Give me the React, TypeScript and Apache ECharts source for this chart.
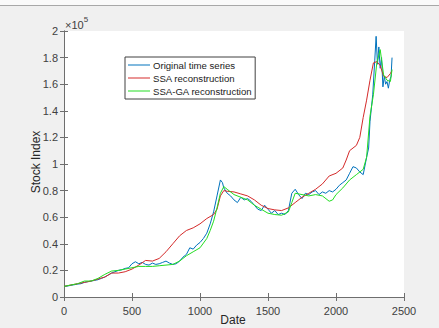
import React, { useEffect, useRef } from "react";
import * as echarts from "echarts";

// Original time series (Date index, Stock Index)
const origDates = [0, 25, 50, 75, 100, 125, 150, 175, 200, 225, 250, 275, 300, 325, 350, 375, 400, 425, 450, 475, 500, 525, 550, 575, 600, 625, 650, 675, 700, 725, 750, 775, 800, 825, 850, 875, 900, 925, 950, 975, 1000, 1025, 1050, 1075, 1100, 1125, 1150, 1165, 1175, 1200, 1225, 1250, 1275, 1300, 1325, 1350, 1375, 1400, 1425, 1450, 1475, 1500, 1525, 1550, 1575, 1600, 1625, 1650, 1675, 1700, 1725, 1750, 1775, 1800, 1825, 1850, 1875, 1900, 1925, 1950, 1975, 2000, 2025, 2050, 2075, 2100, 2125, 2150, 2175, 2200, 2225, 2240, 2250, 2270, 2285, 2295, 2305, 2315, 2325, 2335, 2345, 2355, 2365, 2375, 2385, 2395, 2405, 2412];
const origValues = [8000, 8200, 8800, 9200, 9700, 10000, 11000, 11500, 12000, 12500, 13000, 14000, 15000, 16500, 18000, 19000, 20000, 20500, 21500, 22000, 25000, 26500, 25000, 26000, 24500, 24000, 25500, 24500, 25000, 26000, 27000, 25500, 24500, 25000, 27000, 30000, 32000, 37000, 36000, 39000, 41000, 44000, 48000, 55000, 64000, 76000, 88000, 86000, 82000, 78000, 76000, 73000, 71000, 75000, 73000, 74000, 72000, 69000, 66000, 65000, 69000, 66000, 63000, 65000, 62000, 63000, 62000, 65000, 78000, 81000, 77000, 74000, 78000, 77000, 79000, 80000, 77000, 79000, 78000, 80000, 79000, 81000, 84000, 86000, 88000, 93000, 98000, 97000, 94000, 92000, 105000, 112000, 132000, 152000, 178000, 196000, 175000, 188000, 172000, 180000, 158000, 166000, 160000, 162000, 157000, 163000, 166000, 180000];

// SSA reconstruction
const ssaDates = [0, 50, 100, 150, 200, 250, 300, 350, 400, 450, 500, 550, 600, 650, 700, 750, 800, 850, 900, 950, 1000, 1050, 1100, 1125, 1150, 1175, 1200, 1250, 1300, 1350, 1400, 1450, 1500, 1550, 1600, 1650, 1700, 1750, 1800, 1850, 1900, 1950, 2000, 2050, 2075, 2100, 2150, 2175, 2200, 2225, 2250, 2275, 2300, 2325, 2350, 2375, 2400, 2410];
const ssaValues = [8000, 9000, 10000, 11000, 12000, 13500, 15000, 18000, 18000, 19000, 21000, 24000, 27500, 27000, 29000, 34000, 40000, 46000, 50000, 52000, 55000, 59000, 62000, 66000, 76000, 80000, 79500, 79000, 77500, 76000, 73000, 69000, 66500, 65500, 65000, 67000, 71000, 75000, 78000, 81000, 85000, 91000, 93000, 97000, 103000, 110000, 114000, 120000, 135000, 148000, 163000, 176000, 177000, 174000, 166000, 165000, 168000, 170000];

// SSA-GA reconstruction
const gaDates = [0, 50, 100, 150, 200, 250, 300, 350, 400, 450, 500, 550, 600, 650, 700, 750, 800, 850, 900, 950, 1000, 1050, 1075, 1100, 1125, 1150, 1175, 1200, 1250, 1300, 1350, 1400, 1450, 1500, 1550, 1600, 1650, 1675, 1700, 1750, 1800, 1850, 1900, 1950, 1975, 2000, 2050, 2100, 2150, 2200, 2225, 2250, 2275, 2300, 2325, 2350, 2375, 2400, 2412];
const gaValues = [8000, 9000, 10000, 12000, 12000, 14000, 17000, 19500, 20000, 21000, 22000, 23000, 23000, 23000, 23500, 24000, 24500, 27000, 31000, 34000, 37000, 44000, 50000, 57000, 67000, 78000, 83000, 81000, 77000, 75000, 73000, 69000, 66000, 63000, 62000, 61500, 64000, 71000, 78000, 77000, 76000, 77000, 76000, 72000, 73000, 77000, 82000, 88000, 92000, 96000, 105000, 136000, 152000, 176000, 186000, 167000, 163000, 162000, 171000];

const seriesNames = ["Original time series", "SSA reconstruction", "SSA-GA reconstruction"];
const seriesColors = ["#0072BD", "#d42a2a", "#22dd22"];
const xTicks = { min: 0, max: 2500, interval: 500 };
const yTicks = { min: 0, max: 200000, interval: 20000 };

const zip = (xs: number[], ys: number[]) => xs.map((x, i) => [x, ys[i]]);

export default function App() {
  const ref = useRef<HTMLDivElement>(null);
  useEffect(() => {
    if (!ref.current) return;
    const chart = echarts.init(ref.current, null, { renderer: "svg" });
    const axisColor = "#6e6e6e";
    const labelColor = "#404040";
    const font = "'Liberation Sans', Arial, sans-serif";
    const datasets = [zip(origDates, origValues), zip(ssaDates, ssaValues), zip(gaDates, gaValues)];
    const common = {
      type: "value" as const,
      axisLine: { show: true, lineStyle: { color: axisColor, width: 1 } },
      axisTick: { show: true, inside: true, length: 4, lineStyle: { color: axisColor } },
      splitLine: { show: false },
    };
    chart.setOption({
      animation: false,
      backgroundColor: "#f0f0f0",
      grid: { left: 64, top: 31, width: 340, height: 266, show: true, backgroundColor: "#ffffff", borderWidth: 0 },
      xAxis: [
        {
          ...common,
          position: "bottom",
          ...xTicks,
          axisLabel: { color: labelColor, fontSize: 11, fontFamily: font, margin: 8, formatter: (v: number) => String(v) },
        },
        {
          ...common,
          position: "top",
          ...xTicks,
          axisLabel: { show: false },
        },
      ],
      yAxis: [
        {
          ...common,
          position: "left",
          ...yTicks,
          axisLabel: {
            color: labelColor,
            fontSize: 11,
            fontFamily: font,
            margin: 6,
            formatter: (v: number) => String(Number((v / 1e5).toFixed(1))),
          },
        },
        {
          ...common,
          position: "right",
          ...yTicks,
          axisLabel: { show: false },
        },
      ],
      legend: {
        show: true,
        orient: "vertical",
        left: 125,
        top: 57,
        icon: "rect",
        itemWidth: 22,
        itemHeight: 1,
        itemGap: 1,
        padding: [2, 3, 2, 3],
        borderColor: "#404040",
        borderWidth: 1,
        backgroundColor: "#ffffff",
        textStyle: { fontSize: 9.6, color: "#222", fontFamily: font, lineHeight: 12, padding: [0, 0, 0, -2] },
        data: seriesNames,
      },
      graphic: [
        { type: "rect", shape: { x: 0, y: 0, width: 439, height: 5 }, style: { fill: "#fafafa" }, silent: true },
        { type: "line", shape: { x1: 0, y1: 5.5, x2: 439, y2: 5.5 }, style: { stroke: "#a8a8a8", lineWidth: 1 }, silent: true },
        {
          type: "text",
          x: 65,
          y: 30,
          style: {
            text: "{a|×10}{b|5}",
            textVerticalAlign: "bottom",
            rich: {
              a: { fontSize: 11, fill: labelColor, fontFamily: font, verticalAlign: "bottom" },
              b: { fontSize: 8, fill: labelColor, fontFamily: font, verticalAlign: "top", padding: [0, 0, 7, 0] },
            },
          },
        },
        {
          type: "text",
          x: 36,
          y: 162,
          rotation: Math.PI / 2,
          style: { text: "Stock Index", fontSize: 12, fill: "#262626", fontFamily: font, textAlign: "center", textVerticalAlign: "middle" },
        },
        {
          type: "text",
          x: 233,
          y: 314,
          style: { text: "Date", fontSize: 12, fill: "#262626", fontFamily: font, textAlign: "center", textVerticalAlign: "top" },
        },
      ],
      series: datasets.map((d, i) => ({
        name: seriesNames[i],
        type: "line",
        data: d,
        xAxisIndex: 0,
        yAxisIndex: 0,
        showSymbol: false,
        symbol: "none",
        lineStyle: { color: seriesColors[i], width: 1 },
        itemStyle: { color: seriesColors[i] },
      })),
    });
    return () => chart.dispose();
  }, []);
  return <div ref={ref} style={{ position: "fixed", left: 0, top: 0, width: 439, height: 328 }} />;
}
